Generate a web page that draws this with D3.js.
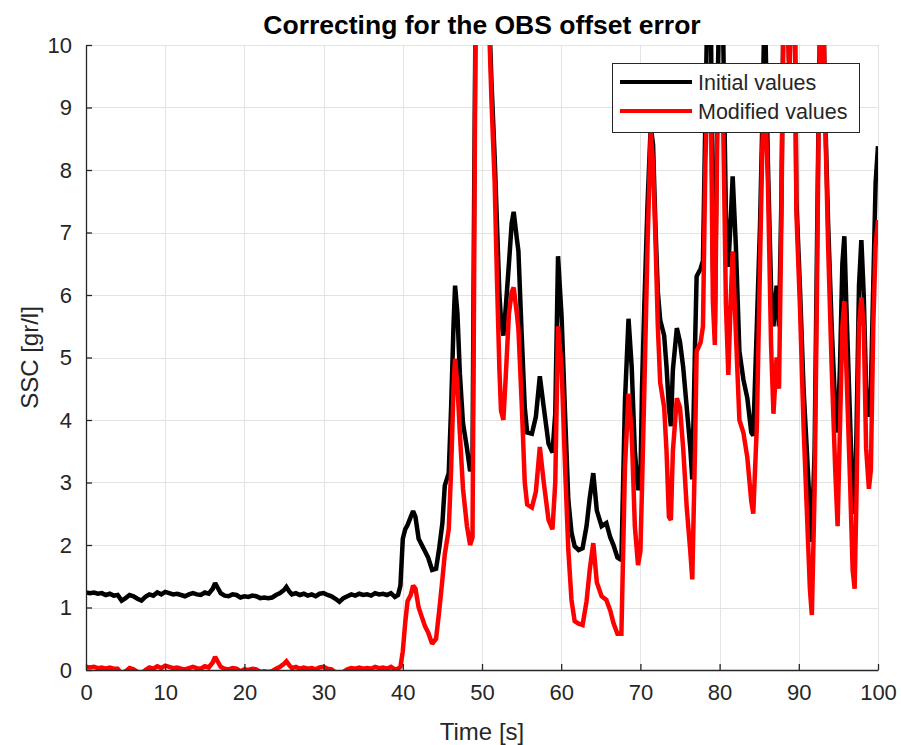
<!DOCTYPE html>
<html>
<head>
<meta charset="utf-8">
<script src="https://cdn.jsdelivr.net/npm/d3@7"></script>
<style>
  html, body { margin: 0; padding: 0; background: #ffffff; }
  svg { display: block; font-family: "Liberation Sans", Arial, Helvetica, sans-serif; }
</style>
</head>
<body>
<svg id="chart" width="901" height="745"></svg>
<script>
// Sample times [s] shared by both records
const time = [
  0.0, 0.5, 1.0, 1.5, 2.0, 2.5, 3.0, 3.5, 4.0, 4.5, 5.0, 5.5, 6.0, 6.5, 7.0, 7.5, 8.0, 8.5, 9.0, 9.5,
  10.0, 10.5, 11.0, 11.5, 12.0, 12.5, 13.0, 13.5, 14.0, 14.5, 15.0, 15.5, 16.0, 16.3, 16.7, 17.0, 17.5, 18.0, 18.5, 19.0,
  19.5, 20.0, 20.5, 21.0, 21.5, 22.0, 22.5, 23.0, 23.5, 24.0, 24.5, 25.0, 25.3, 25.7, 26.0, 26.5, 27.0, 27.5, 28.0, 28.5,
  29.0, 29.5, 30.0, 30.5, 31.0, 31.5, 32.0, 32.5, 33.0, 33.5, 34.0, 34.5, 35.0, 35.5, 36.0, 36.5, 37.0, 37.5, 38.0, 38.5,
  39.0, 39.4, 39.7, 40.0, 40.3, 40.6, 41.0, 41.3, 41.6, 42.0, 42.4, 42.8, 43.2, 43.7, 44.2, 44.6, 45.0, 45.3, 45.8, 46.1,
  46.4, 46.6, 46.9, 47.2, 47.6, 48.1, 48.5, 48.8, 49.0, 49.2, 49.6, 50.4, 50.9, 51.2, 51.6, 51.9, 52.2, 52.4, 52.7, 53.0,
  53.4, 53.75, 54.0, 54.4, 54.6, 55.0, 55.4, 55.7, 56.3, 56.8, 57.3, 57.8, 58.4, 58.9, 59.25, 59.6, 60.05, 60.5, 60.9, 61.3,
  61.7, 62.2, 62.7, 63.2, 63.6, 64.05, 64.5, 65.1, 65.7, 66.2, 66.6, 67.1, 67.6, 68.05, 68.5, 68.9, 69.3, 69.7, 70.0, 70.2,
  70.5, 70.9, 71.3, 71.6, 71.9, 72.2, 72.5, 73.0, 73.3, 73.6, 73.85, 74.1, 74.6, 75.0, 75.4, 75.85, 76.3, 76.55, 76.9, 77.1,
  77.6, 77.9, 78.2, 78.5, 78.9, 79.15, 79.4, 79.7, 80.0, 80.4, 80.8, 81.1, 81.4, 81.65, 82.05, 82.5, 83.0, 83.5, 84.0, 84.25,
  84.7, 85.1, 85.4, 85.7, 86.1, 86.5, 86.8, 87.2, 87.5, 87.8, 88.1, 88.5, 88.8, 89.1, 89.5, 89.7, 90.15, 90.6, 91.0, 91.4,
  91.65, 92.0, 92.3, 92.55, 92.8, 93.1, 93.35, 93.7, 94.15, 94.6, 94.9, 95.2, 95.5, 95.75, 96.0, 96.5, 96.8, 97.05, 97.3, 97.6,
  97.9, 98.2, 98.5, 98.85, 99.1, 99.4, 99.7, 100.0
];

// Suspended sediment concentration before correction [gr/l]
const initialValues = [
  1.24, 1.23, 1.24, 1.22, 1.23, 1.20, 1.22, 1.19, 1.20, 1.11, 1.15, 1.20, 1.18, 1.14, 1.11, 1.17, 1.21, 1.19, 1.24, 1.21,
  1.25, 1.23, 1.21, 1.22, 1.20, 1.18, 1.21, 1.23, 1.21, 1.20, 1.24, 1.22, 1.30, 1.39, 1.30, 1.23, 1.19, 1.18, 1.21, 1.20,
  1.16, 1.18, 1.17, 1.19, 1.18, 1.15, 1.16, 1.15, 1.16, 1.20, 1.23, 1.28, 1.33, 1.25, 1.21, 1.23, 1.20, 1.22, 1.19, 1.21,
  1.18, 1.22, 1.23, 1.20, 1.18, 1.14, 1.09, 1.15, 1.18, 1.21, 1.19, 1.22, 1.20, 1.21, 1.19, 1.23, 1.21, 1.22, 1.20, 1.23,
  1.17, 1.20, 1.35, 2.10, 2.25, 2.32, 2.45, 2.54, 2.45, 2.10, 2.00, 1.90, 1.80, 1.60, 1.62, 1.95, 2.35, 2.95, 3.15, 4.20,
  5.50, 6.15, 5.70, 4.75, 3.95, 3.55, 3.18, 3.30, 7.40, 10.8, 12.0, 12.0, 10.5, 9.4, 8.2, 7.1, 6.0, 5.6, 5.35, 5.8,
  6.5, 7.15, 7.33, 6.9, 6.7, 5.4, 4.2, 3.8, 3.78, 4.05, 4.7, 4.2, 3.62, 3.48, 4.1, 6.62, 5.65, 4.05, 2.72, 2.2,
  1.98, 1.92, 1.95, 2.3, 2.75, 3.15, 2.55, 2.3, 2.35, 2.12, 2.0, 1.8, 1.76, 4.3, 5.62, 4.85, 3.5, 2.88, 3.0, 4.5,
  5.85, 7.45, 8.7, 8.4, 7.1, 6.05, 5.6, 5.35, 4.85, 4.2, 3.9, 4.8, 5.47, 5.25, 4.85, 4.2, 3.55, 3.05, 5.2, 6.3,
  6.42, 6.55, 8.8, 11.0, 10.5, 6.5, 5.5, 9.0, 11.0, 10.6, 7.26, 6.45, 7.2, 7.9, 6.8, 5.1, 4.65, 4.35, 3.8, 3.75,
  5.5, 7.1, 8.8, 10.8, 8.1, 6.1, 5.5, 6.15, 5.5, 7.5, 11.0, 11.0, 9.6, 11.0, 10.5, 7.5, 6.1, 4.5, 3.55, 2.55,
  2.05, 3.55, 6.8, 9.4, 11.0, 10.6, 8.8, 7.15, 5.5, 4.2, 3.8, 4.85, 6.5, 6.94, 5.85, 3.9, 2.7, 2.5, 3.9, 6.15,
  6.88, 6.0, 4.5, 4.05, 4.5, 6.15, 7.8, 8.38
];

// Suspended sediment concentration after removing the OBS offset [gr/l]
const modifiedValues = [
  0.05, 0.04, 0.05, 0.03, 0.04, 0.02, 0.04, 0.02, 0.02, -0.06, -0.02, 0.03, 0.01, -0.03, -0.06, 0.00, 0.04, 0.02, 0.06, 0.03,
  0.07, 0.05, 0.03, 0.04, 0.02, 0.01, 0.03, 0.05, 0.03, 0.02, 0.06, 0.04, 0.12, 0.21, 0.12, 0.05, 0.02, 0.01, 0.03, 0.02,
  -0.02, 0.01, 0.00, 0.02, 0.01, -0.03, -0.02, -0.03, -0.02, 0.02, 0.05, 0.10, 0.14, 0.07, 0.03, 0.05, 0.02, 0.04, 0.02, 0.03,
  0.01, 0.04, 0.05, 0.02, 0.01, -0.04, -0.08, -0.03, 0.01, 0.03, 0.02, 0.04, 0.02, 0.03, 0.02, 0.05, 0.03, 0.04, 0.02, 0.05,
  0.01, 0.02, 0.05, 0.30, 0.75, 1.10, 1.20, 1.35, 1.30, 1.00, 0.85, 0.70, 0.60, 0.42, 0.50, 0.95, 1.45, 1.85, 2.25, 3.20,
  4.50, 4.98, 4.55, 3.80, 2.90, 2.30, 2.00, 2.12, 6.15, 10.8, 12.0, 12.0, 10.3, 9.1, 7.8, 6.2, 4.8, 4.15, 4.0, 4.7,
  5.7, 6.05, 6.12, 5.7, 5.45, 4.3, 3.0, 2.65, 2.6, 2.85, 3.57, 3.0, 2.4, 2.25, 3.0, 5.5, 4.85, 3.2, 1.92, 1.12,
  0.78, 0.74, 0.72, 1.1, 1.6, 2.03, 1.4, 1.18, 1.12, 0.95, 0.75, 0.58, 0.58, 3.25, 4.42, 3.8, 2.3, 1.68, 1.9, 2.9,
  4.5, 6.8, 8.6, 8.1, 6.9, 5.5, 4.6, 4.2, 3.5, 2.45, 2.4, 3.5, 4.35, 4.2, 3.55, 2.6, 1.9, 1.45, 3.55, 5.1,
  5.24, 5.5, 8.1, 9.4, 9.2, 5.9, 5.2, 8.5, 9.5, 9.2, 5.85, 4.72, 5.9, 6.7, 5.4, 4.0, 3.8, 3.4, 2.7, 2.5,
  3.9, 6.5, 8.4, 9.3, 7.8, 5.2, 4.1, 5.0, 4.5, 7.2, 11.0, 11.0, 9.4, 11.0, 10.5, 7.3, 5.8, 3.9, 2.6, 1.3,
  0.88, 2.9, 6.15, 9.3, 11.0, 10.6, 8.7, 6.8, 4.85, 3.2, 2.3, 3.9, 5.5, 5.9, 4.85, 2.9, 1.6, 1.3, 2.9, 5.5,
  5.96, 5.5, 3.55, 2.9, 3.2, 5.5, 6.8, 7.2
];

const seriesNames = ["Initial values", "Modified values"];
const seriesColors = ["#000000", "#ff0000"];
const xTickValues = [0, 10, 20, 30, 40, 50, 60, 70, 80, 90, 100];
const yTickValues = [0, 1, 2, 3, 4, 5, 6, 7, 8, 9, 10];

const svg = d3.select("#chart");
const plot = { left: 86, right: 878, top: 45, bottom: 670 };
const axisColor = "#262626";

const x = d3.scaleLinear().domain([0, 100]).range([plot.left, plot.right]);
const y = d3.scaleLinear().domain([0, 10]).range([plot.bottom, plot.top]);

// Grid
const grid = svg.append("g").attr("stroke", "#e3e3e3").attr("stroke-width", 1);
grid.selectAll("line.v").data(xTickValues).join("line")
  .attr("x1", d => Math.round(x(d)) + 0.5).attr("x2", d => Math.round(x(d)) + 0.5)
  .attr("y1", plot.top).attr("y2", plot.bottom);
grid.selectAll("line.h").data(yTickValues).join("line")
  .attr("y1", d => Math.round(y(d)) + 0.5).attr("y2", d => Math.round(y(d)) + 0.5)
  .attr("x1", plot.left).attr("x2", plot.right);

// Data lines, clipped to the axes box
svg.append("clipPath").attr("id", "plot-clip").append("rect")
  .attr("x", plot.left).attr("y", plot.top)
  .attr("width", plot.right - plot.left).attr("height", plot.bottom - plot.top);

const line = d3.line().x(d => x(d[0])).y(d => y(d[1]));
const seriesValues = [initialValues, modifiedValues];
const lines = svg.append("g").attr("clip-path", "url(#plot-clip)");
seriesValues.forEach((vals, i) => {
  lines.append("path")
    .datum(time.map((t, k) => [t, vals[k]]))
    .attr("fill", "none")
    .attr("stroke", seriesColors[i])
    .attr("stroke-width", 4.5)
    .attr("stroke-linejoin", "miter")
    .attr("stroke-miterlimit", 2)
    .attr("d", line);
});

// Axes (left and bottom only, ticks pointing inward)
const xAxis = d3.axisBottom(x).tickValues(xTickValues).tickFormat(d3.format("d"))
  .tickSizeInner(-6).tickSizeOuter(0).tickPadding(14);
const yAxis = d3.axisLeft(y).tickValues(yTickValues).tickFormat(d3.format("d"))
  .tickSizeInner(-6).tickSizeOuter(0).tickPadding(14);

const gx = svg.append("g").attr("transform", `translate(0,${plot.bottom})`).call(xAxis);
const gy = svg.append("g").attr("transform", `translate(${plot.left},0)`).call(yAxis);
[gx, gy].forEach(g => {
  g.select(".domain").attr("stroke", axisColor).attr("stroke-width", 1.3);
  g.selectAll(".tick line").attr("stroke", axisColor).attr("stroke-width", 1.3);
  g.selectAll(".tick text").attr("fill", axisColor)
    .style("font-size", "22px").style("font-family", "'Liberation Sans', Arial, sans-serif");
});

// Title and axis labels
svg.append("text")
  .attr("x", (plot.left + plot.right) / 2).attr("y", 34)
  .attr("text-anchor", "middle")
  .style("font-size", "26.5px").style("font-weight", "bold").attr("fill", "#000")
  .text("Correcting for the OBS offset error");

svg.append("text")
  .attr("x", (plot.left + plot.right) / 2).attr("y", 740)
  .attr("text-anchor", "middle")
  .style("font-size", "24px").attr("fill", axisColor)
  .text("Time [s]");

svg.append("text")
  .attr("transform", `translate(38,${(plot.top + plot.bottom) / 2}) rotate(-90)`)
  .attr("text-anchor", "middle")
  .style("font-size", "24px").attr("fill", axisColor)
  .text("SSC [gr/l]");

// Legend
const legend = svg.append("g").attr("transform", "translate(612,63)");
legend.append("rect")
  .attr("x", 0.5).attr("y", 0.5).attr("width", 247).attr("height", 69)
  .attr("fill", "#ffffff").attr("stroke", axisColor).attr("stroke-width", 1);
seriesNames.forEach((name, i) => {
  const ly = 19 + i * 29;
  legend.append("line")
    .attr("x1", 8).attr("x2", 80).attr("y1", ly).attr("y2", ly)
    .attr("stroke", seriesColors[i]).attr("stroke-width", 4);
  legend.append("text")
    .attr("x", 86).attr("y", ly + 8)
    .style("font-size", "21.5px").attr("fill", axisColor)
    .text(name);
});
</script>
</body>
</html>
